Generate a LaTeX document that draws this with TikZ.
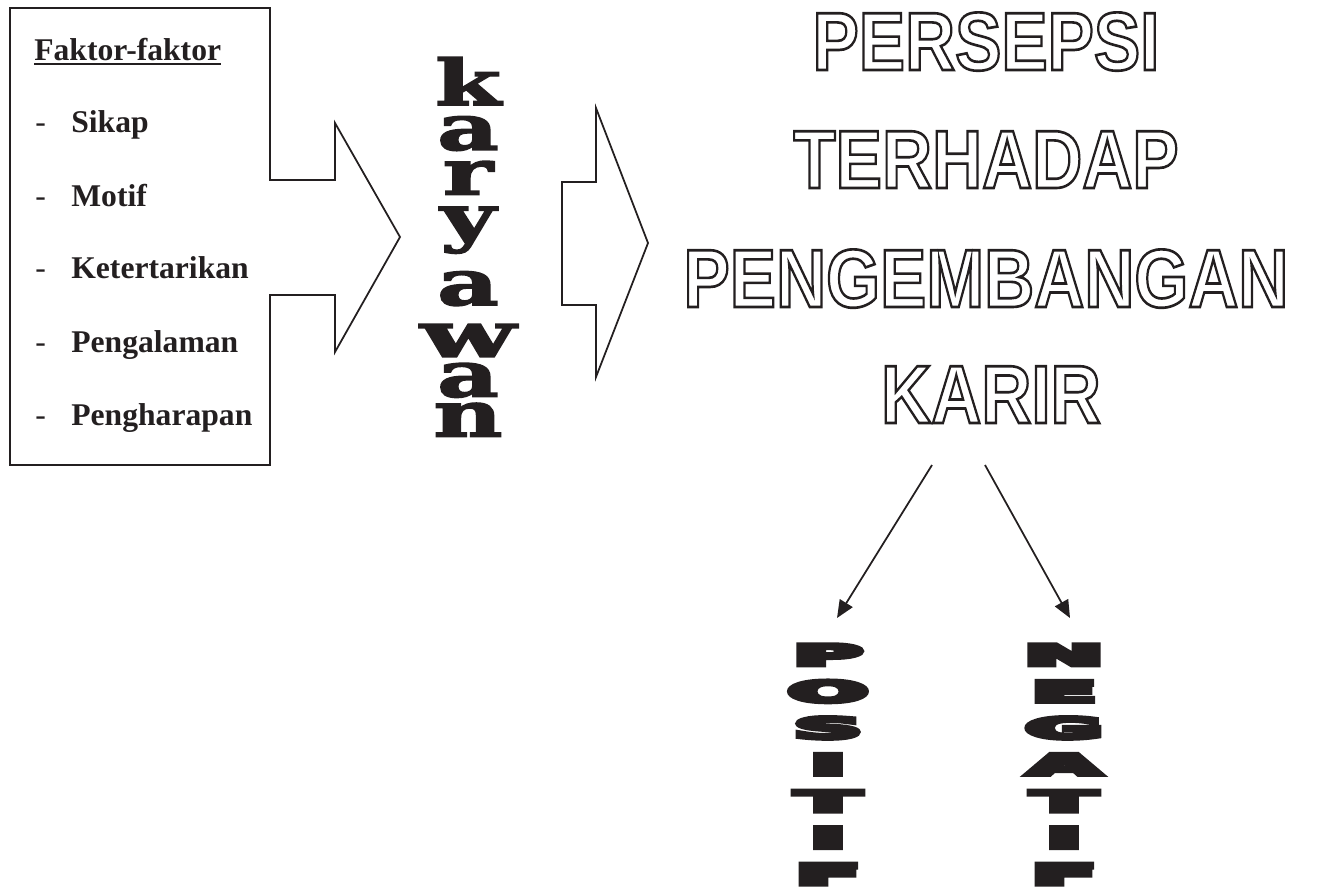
\documentclass[tikz,border=0pt]{standalone}
\usepackage{fontspec}
\setmainfont{Liberation Serif}
\newfontfamily\sansbold{Liberation Sans}
\newfontfamily\slab{DejaVu Serif}
\newfontfamily\heavy{DejaVu Sans}
\usetikzlibrary{arrows.meta}
\definecolor{ink}{RGB}{35,31,32}
\newcommand\outlined[1]{\special{pdf:literal direct 1 Tr 1.5 w}#1\special{pdf:literal direct 0 Tr}}
\newcommand\heavied[1]{\special{pdf:literal direct 2 Tr 2.2 w}#1\special{pdf:literal direct 0 Tr}}
\newcommand\thick[1]{\special{pdf:literal direct 2 Tr 0.8 w}#1\special{pdf:literal direct 0 Tr}}
\newcommand\kl[2][1.5]{\scalebox{#1}[1]{\thick{#2}}}
\newcommand\pl[1]{\scalebox{3.2}[1]{\heavied{#1}}}
\begin{document}
\begin{tikzpicture}[x=0.02cm,y=-0.02cm,
  every node/.style={inner sep=0pt, text=ink},
  item/.style={anchor=base west, font=\bfseries\fontsize{18}{20}\selectfont},
  dashmark/.style={anchor=base west, font=\fontsize{18}{20}\selectfont},
  title/.style={anchor=base, font=\sansbold\bfseries\fontsize{47}{50}\selectfont},
  kword/.style={anchor=south, align=center, font=\slab\bfseries\fontsize{36}{25.5}\selectfont},
  pword/.style={anchor=south, align=center, font=\heavy\bfseries\fontsize{16.5}{20.8}\selectfont},
  outl/.style={draw=ink, line width=1pt, line join=miter},
  conn/.style={draw=ink, line width=1pt, -{Triangle[length=10pt,width=8.5pt]}}]
\useasboundingbox (0,0) rectangle (1317,890);

% box with attached arrow
\draw[outl] (10,8) -- (270,8) -- (270,180) -- (335,180) -- (335,123) -- (400,237)
  -- (335,352) -- (335,295) -- (270,295) -- (270,465) -- (10,465) -- cycle;
% second arrow
\draw[outl] (562,182) -- (596,182) -- (596,108) -- (648,243) -- (596,377)
  -- (596,305) -- (562,305) -- cycle;

% box text
\node[item] (fk) at (34,60) {Faktor-faktor};
\draw[ink, line width=1.1pt] ([yshift=-2.2pt]fk.base west) -- ([yshift=-2.2pt]fk.base east);
\node[dashmark] (d1) at (35,132) {-};
\node[item] (i1) at (71,132) {Sikap};
\node[dashmark] (d2) at (35,206) {-};
\node[item] (i2) at (71,206) {Motif};
\node[dashmark] (d3) at (35,278) {-};
\node[item] (i3) at (71,278) {Ketertarikan};
\node[dashmark] (d4) at (35,352) {-};
\node[item] (i4) at (71,352) {Pengalaman};
\node[dashmark] (d5) at (35,425) {-};
\node[item] (i5) at (71,425) {Pengharapan};

% karyawan (vertical)
\node[kword] (kar) at (468,437) {\kl{k}\\\kl{a}\\\kl{r}\\\kl{y}\\[9.1pt]\kl{a}\\[4pt]\kl[1.75]{w}\\[-2.8pt]\kl{a}\\[-2.8pt]\kl{n}};

% title
\node[title] (t1) at (986,70) {\scalebox{0.84}[1]{\outlined{PERSEPSI}}};
\node[title] (t2) at (986,188) {\scalebox{0.84}[1]{\outlined{TERHADAP}}};
\node[title] (t3) at (986,307) {\scalebox{0.84}[1]{\outlined{PENGEMBANGAN}}};
\node[title] (t4) at (991,423) {\scalebox{0.84}[1]{\outlined{KARIR}}};

% POSITIF / NEGATIF (vertical)
\node[pword] (pos) at (828,885) {\pl{P}\\\pl{O}\\\pl{S}\\\pl{I}\\\pl{T}\\\pl{I}\\\pl{F}};
\node[pword] (neg) at (1064,885) {\pl{N}\\\pl{E}\\\pl{G}\\\pl{A}\\\pl{T}\\\pl{I}\\\pl{F}};

% arrows
\coordinate (s1) at (932,465);
\coordinate (s2) at (985,465);
\coordinate (e1) at (837,618);
\coordinate (e2) at (1070,618);
\draw[conn] (s1) -- (e1);
\draw[conn] (s2) -- (e2);
\end{tikzpicture}
\end{document}
